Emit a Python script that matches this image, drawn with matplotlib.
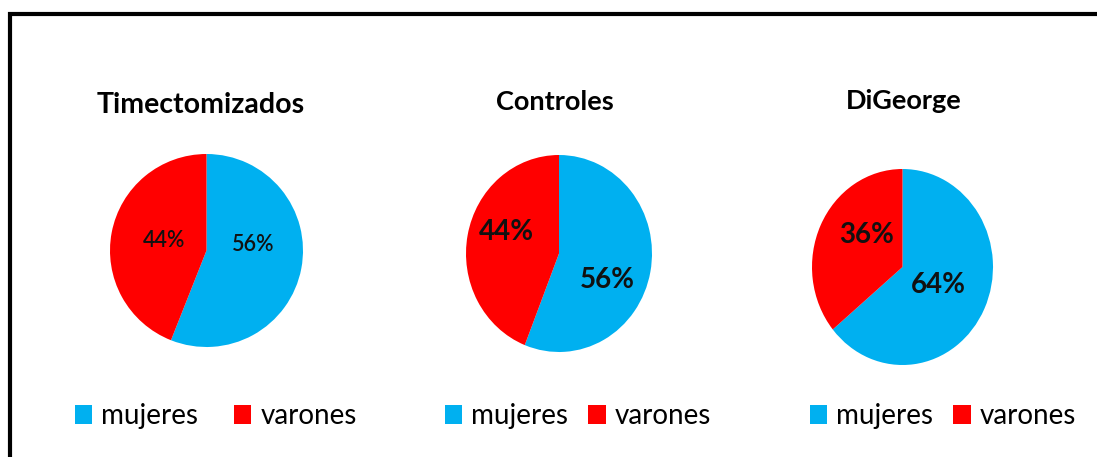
import matplotlib
matplotlib.use("Agg")
import matplotlib.pyplot as plt
from matplotlib.patches import Rectangle

# ---------------- data ----------------
groups = ["Timectomizados", "Controles", "DiGeorge"]
categories = ["mujeres", "varones"]
mujeres = [56, 56, 64]
varones = [44, 44, 36]
colors = ["#00B0F0", "#FF0000"]

# ---------------- layout (pixels) ----------------
W, H = 1097, 457
FONT = ["Lato", "DejaVu Sans"]
plt.rcParams["font.family"] = FONT

# pie ellipse boxes: cx, cy, rx, ry
pie_boxes = [(206.5, 250.5, 96.5, 96.5), (559, 253.5, 93, 98.5), (902.5, 267, 90.5, 98)]
# label positions in unit pie coords (mujeres, varones)
label_pos = [((0.48, 0.06), (-0.44, 0.10)),
             ((0.52, -0.27), (-0.56, 0.22)),
             ((0.40, -0.18), (-0.40, 0.33))]
label_size = [15.5, 20, 20]
label_weight = ["semibold", "bold", "bold"]
title_xy = [(200.5, 113), (555, 110), (904, 109)]
title_size = [20.5, 19.5, 19.5]
legend_x = [75, 445, 810]
legend_colsp = [1.28, 0.72, 0.72]
legend_y = 416
legend_fs = 20

fig = plt.figure(figsize=(W / 100, H / 100), dpi=100)
fig.patch.set_facecolor("white")

# frame (top and left edges visible; right/bottom run off the image)
fig.add_artist(Rectangle((10 / W, -0.1), 1.2, 1.1 - 14 / H, fill=False,
                         edgecolor="black", lw=3.0, transform=fig.transFigure))

for i, g in enumerate(groups):
    cx, cy, rx, ry = pie_boxes[i]
    ax = fig.add_axes([(cx - rx) / W, 1 - (cy + ry) / H, 2 * rx / W, 2 * ry / H])
    vals = [mujeres[i], varones[i]]
    wedges, texts, autotexts = ax.pie(
        vals, colors=colors, startangle=90, counterclock=False, radius=1,
        autopct=lambda p: f"{p:.0f}%",
        wedgeprops=dict(linewidth=0),
        textprops=dict(fontsize=label_size[i], fontweight=label_weight[i], color="#111111"))
    for t, pos in zip(autotexts, label_pos[i]):
        t.set_position(pos)
        t.set_ha("center")
        t.set_va("center")
    ax.set_aspect("auto")
    ax.set_xlim(-1, 1)
    ax.set_ylim(-1, 1)
    ax.axis("off")

    tx, ty = title_xy[i]
    fig.text(tx / W, 1 - ty / H, g, ha="center", va="baseline",
             fontsize=title_size[i], fontweight="bold", color="black")

    fig.legend(wedges, categories, loc="center left",
               bbox_to_anchor=(legend_x[i] / W, 1 - legend_y / H),
               ncol=2, frameon=False, fontsize=legend_fs,
               handlelength=0.62, handleheight=0.66, handletextpad=0.33,
               columnspacing=legend_colsp[i], borderpad=0, borderaxespad=0)

fig.savefig("out.png", dpi=100, facecolor="white")
